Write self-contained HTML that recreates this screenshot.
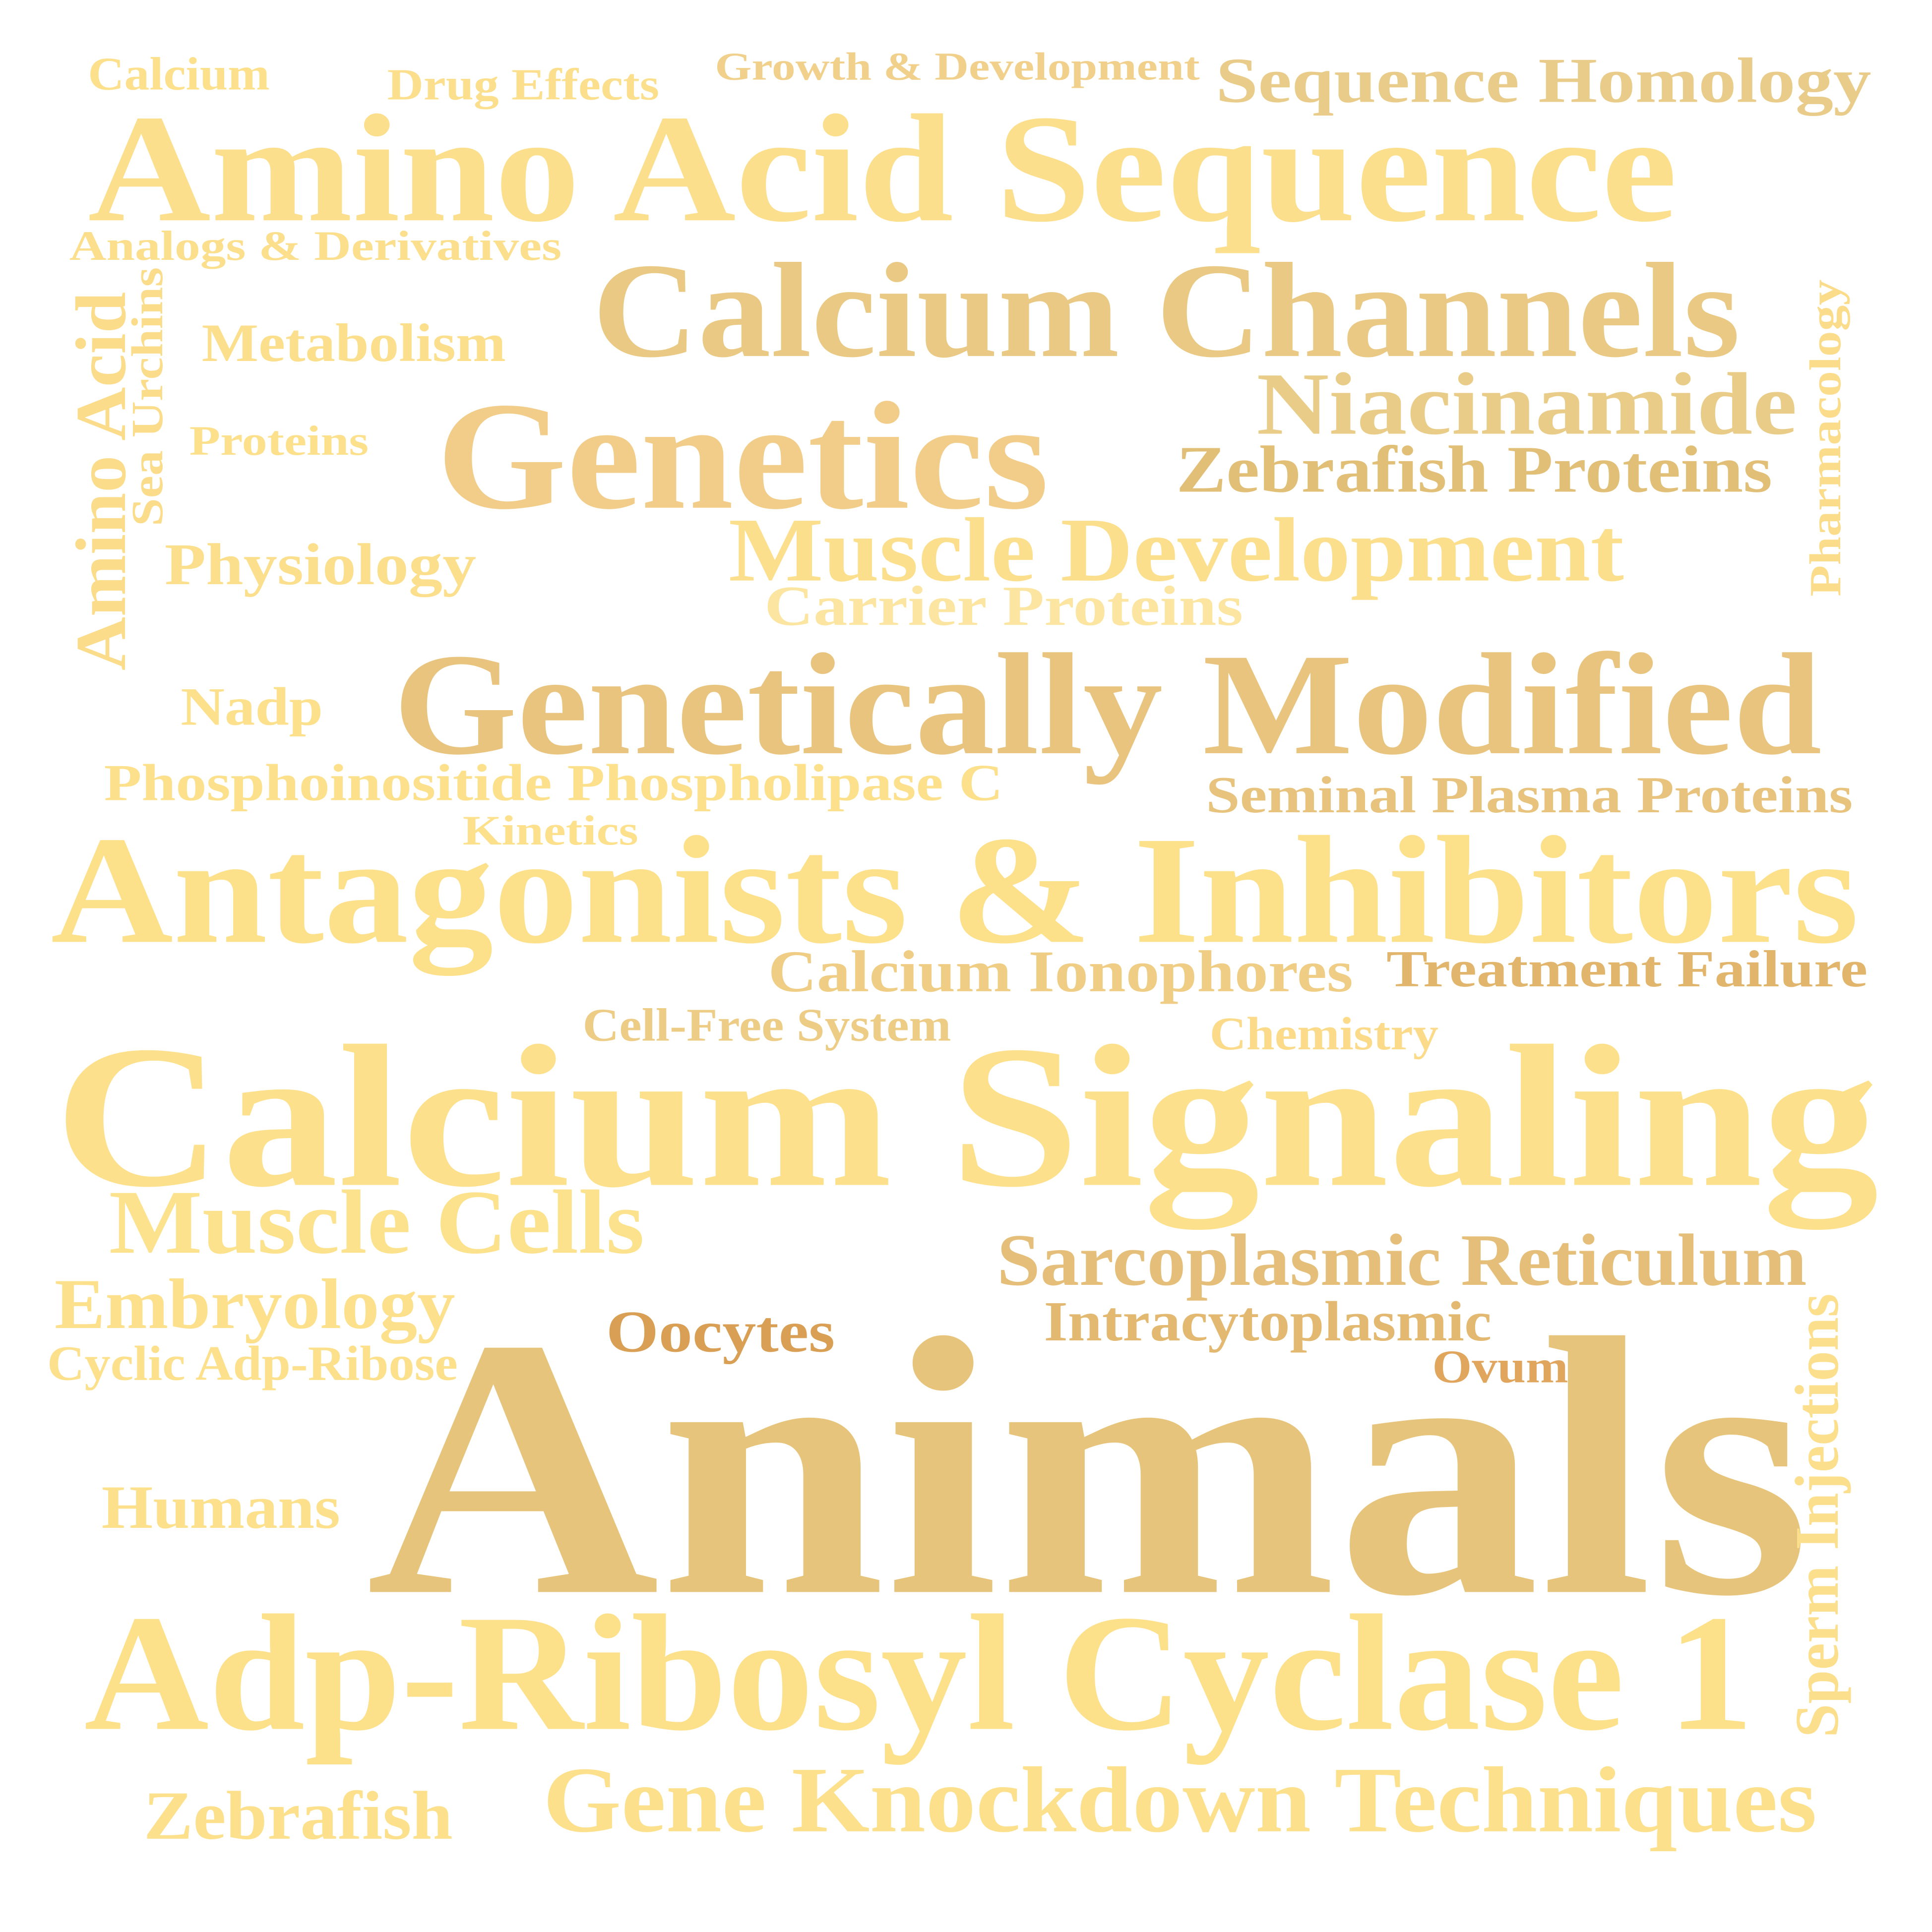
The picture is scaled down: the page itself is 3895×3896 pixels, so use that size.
<!DOCTYPE html>
<html><head><meta charset="utf-8"><style>
html,body{margin:0;padding:0;background:#fff;}
svg{display:block;}
text{font-family:"Liberation Serif",serif;font-weight:bold;}
</style></head><body>
<svg id="cloud" width="3895" height="3896" viewBox="0 0 1558 1558" xmlns="http://www.w3.org/2000/svg">
<rect width="1558" height="1558" fill="#fff"/>
<g id="words" transform="translate(-3.9,-1.6) scale(0.9973,0.995)"></g>
</svg>
<script>
const words = ["Calcium","Drug Effects","Growth & Development","Sequence Homology","Amino Acid Sequence","Analogs & Derivatives","Calcium Channels","Metabolism","Amino Acid","Sea Urchins","Niacinamide","Proteins","Genetics","Zebrafish Proteins","Pharmacology","Physiology","Muscle Development","Carrier Proteins","Nadp","Genetically Modified","Phosphoinositide Phospholipase C","Seminal Plasma Proteins","Kinetics","Antagonists & Inhibitors","Calcium Ionophores","Treatment Failure","Cell-Free System","Chemistry","Calcium Signaling","Muscle Cells","Sarcoplasmic Reticulum","Embryology","Oocytes","Intracytoplasmic","Cyclic Adp-Ribose","Ovum","Animals","Sperm Injections","Humans","Adp-Ribosyl Cyclase 1","Zebrafish","Gene Knockdown Techniques"];
const wordX = [75,317,582,987,75,60,483,167,105,135,1020,157,357,955,1492,137,593,622,150,322,88,979,378,45,625,1125,475,982,48,92,810,48,494,848,42,1162,300,1490,86,72,120,443];
const wordY = [74,82,66,84,180,212,290,294,545,428,353,370,413,400,485,475,472,508,589,612,650,660,686,765,805,801,845,852,962,1017,1043,1078,1097,1088,1120,1122,1292,1410,1240,1403,1492,1486];
const wordSize = [38,36,32,52,125,34,110,44,58,36,72,34,125,54,36,48,74,46,44,118,42,42,34,125,48,42,38,38,165,74,60,58,48,46,40,38,300,50,50,135,56,76];
const wordLen = [147,220,392,530,1285,398,928,246,307,210,437,145,495,482,257,252,724,387,115,1155,727,523,142,1462,473,389,298,185,1475,433,655,324,185,362,332,110,1168,360,193,1350,250,1030];
const wordVertical = [0,0,0,0,0,0,0,0,1,1,0,0,0,0,1,0,0,0,0,0,0,0,0,0,0,0,0,0,0,0,0,0,0,0,0,0,0,1,0,0,0,0];
const wordColor = ["#fce08c","#fbdf8c","#f0d08a","#e9cc8a","#fcdf8d","#fbdf8c","#e9c984","#fcdf8c","#fbdc8a","#fbdc8a","#e9cc88","#fce08c","#f2cd8a","#e2bf77","#fbdc8a","#fcdf8c","#fcdf8d","#fce5a0","#fce08c","#e9c47f","#fce08c","#e8c37e","#fce08c","#fde08a","#f0cd84","#e2b56c","#edcc85","#fbdb8a","#fde08b","#fce28d","#e5bf7a","#fce08c","#d99f55","#e3b870","#fce08c","#e1a65e","#e7c47b","#fcdf8c","#fce08c","#fde08a","#fce08c","#fce08c"];
const g = document.getElementById('words');
const NS = 'http://www.w3.org/2000/svg';
for (let i = 0; i < words.length; i++) {
  const t = document.createElementNS(NS, 'text');
  
  
  t.setAttribute('x', wordX[i]);
  t.setAttribute('y', wordY[i]);
  t.setAttribute('font-size', wordSize[i]);
  t.setAttribute('fill', wordColor[i]);
  t.setAttribute('textLength', wordLen[i]);
  t.setAttribute('lengthAdjust', 'spacingAndGlyphs');
  if (wordVertical[i]) t.setAttribute('transform', 'rotate(-90 ' + wordX[i] + ' ' + wordY[i] + ')');
  t.textContent = words[i];
  g.appendChild(t);
}
</script>
</body></html>
